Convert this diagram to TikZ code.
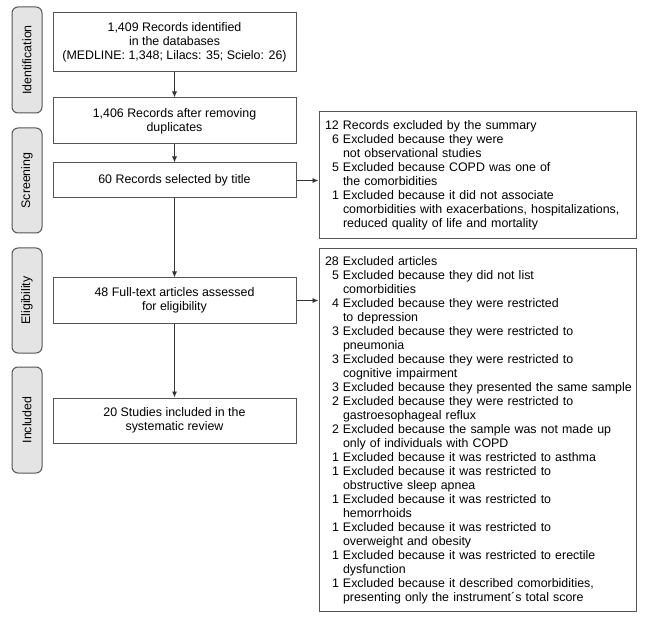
\documentclass[tikz,border=0pt]{standalone}
\usepackage{fontspec}
\setmainfont{Liberation Sans}
\usepackage{tikz}
\usetikzlibrary{arrows.meta, positioning, calc}
\definecolor{flowline}{HTML}{333333}
\definecolor{flowborder}{HTML}{555555}
\definecolor{tabfill}{HTML}{E4E4E4}

% item lines of the exclusion boxes
\newcommand{\nr}[1]{\hspace*{7pt}\makebox[11pt][l]{#1}}
\newcommand{\cont}{\hspace*{18pt}}

\begin{document}
\begin{tikzpicture}[
    x=1pt, y=-1pt,
    every node/.style={font=\fontsize{12.4}{14}\selectfont},
    phase/.style={rectangle, rounded corners=6pt, draw=flowborder, fill=tabfill, line width=1pt, minimum width=30pt, minimum height=#1, inner sep=0pt},
    stage/.style={rectangle, draw=flowborder, line width=1pt, minimum width=243pt, minimum height=#1, align=center, inner sep=2pt},
    excl/.style={rectangle, draw=flowborder, line width=1pt, minimum width=317pt, text width=305pt, minimum height=#1, align=left, inner xsep=6pt, inner ysep=0pt},
    arrow/.style={-{Latex[length=6pt,width=5pt]}, line width=0.9pt, color=flowline}
]
\useasboundingbox (0,0) rectangle (645,620);

% Phase tabs
\node[phase=106pt] (phident) at (27,60) {\rotatebox{90}{Identification}};
\node[phase=105pt] (phscreen) at (27,180.5) {\rotatebox{90}{Screening}};
\node[phase=105pt] (phelig) at (27,300.5) {\rotatebox{90}{Eligibility}};
\node[phase=106pt] (phincl) at (27,420) {\rotatebox{90}{Included}};

% Main flow
\node[stage=59pt] (ident) at (174.5,42.5) {1,409 Records identified\\in the databases\\(MEDLINE: 1,348; Lilacs: 35; Scielo: 26)};
\node[stage=46pt] (dup) at (174.5,121) {1,406 Records after removing\\duplicates};
\node[stage=35pt] (title) at (174.5,180.5) {60 Records selected by title};
\node[stage=45pt] (fulltext) at (174.5,300.5) {48 Full-text articles assessed\\for eligibility};
\node[stage=45pt] (incl) at (174.5,420.5) {20 Studies included in the\\systematic review};

% Exclusions
\node[excl=127pt] (exsummary) at (477.5,175.5) {12 Records excluded by the summary\\
\nr{6}Excluded because they were\\
\cont not observational studies\\
\nr{5}Excluded because COPD was one of\\
\cont the comorbidities\\
\nr{1}Excluded because it did not associate\\
\cont comorbidities with exacerbations, hospitalizations,\\
\cont reduced quality of life and mortality};

\node[excl=362pt] (exarticles) at (477.5,430) {28 Excluded articles\\
\nr{5}Excluded because they did not list\\
\cont comorbidities\\
\nr{4}Excluded because they were restricted\\
\cont to depression\\
\nr{3}Excluded because they were restricted to\\
\cont pneumonia\\
\nr{3}Excluded because they were restricted to\\
\cont cognitive impairment\\
\nr{3}\mbox{Excluded because they presented the same sample}\\
\nr{2}Excluded because they were restricted to\\
\cont gastroesophageal reflux\\
\nr{2}Excluded because the sample was not made up\\
\cont only of individuals with COPD\\
\nr{1}Excluded because it was restricted to asthma\\
\nr{1}Excluded because it was restricted to\\
\cont obstructive sleep apnea\\
\nr{1}Excluded because it was restricted to\\
\cont hemorrhoids\\
\nr{1}Excluded because it was restricted to\\
\cont overweight and obesity\\
\nr{1}Excluded because it was restricted to erectile\\
\cont dysfunction\\
\nr{1}Excluded because it described comorbidities,\\
\cont presenting only the instrument\textasciiacute s total score};

% Arrows
\draw[arrow] (ident) -- (dup);
\draw[arrow] (dup) -- (title);
\draw[arrow] (title) -- (fulltext);
\draw[arrow] (fulltext) -- (incl);
\draw[arrow] (title.east) -- (exsummary.west |- title.east);
\draw[arrow] (fulltext.east) -- (exarticles.west |- fulltext.east);

\end{tikzpicture}
\end{document}
